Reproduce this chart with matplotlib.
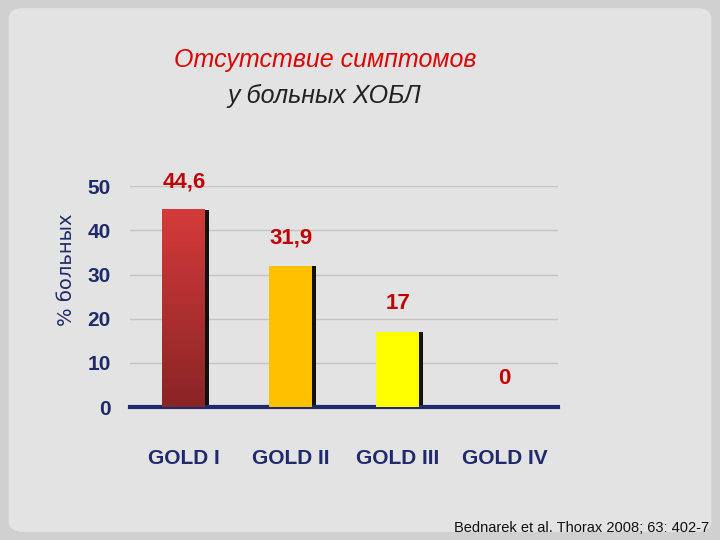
import numpy as np
import matplotlib.pyplot as plt
from matplotlib.patches import FancyBboxPatch
from matplotlib.colors import LinearSegmentedColormap

categories = ['GOLD I', 'GOLD II', 'GOLD III', 'GOLD IV']
values = [44.6, 31.9, 17, 0]
value_labels = ['44,6', '31,9', '17', '0']
colors = ['#c83232', '#ffc000', '#ffff00', '#ffffff']

navy = '#1f2a6b'
red = '#c00000'
narrow = ['Liberation Sans Narrow', 'Liberation Sans', 'DejaVu Sans']

fig = plt.figure(figsize=(7.2, 5.4), dpi=100, facecolor='#d0d0d0')
panel = FancyBboxPatch((0.012, 0.015), 0.976, 0.97, boxstyle='round,pad=0,rounding_size=0.02',
                       transform=fig.transFigure, facecolor='#e3e3e3', edgecolor='none', zorder=-5)
fig.patches.append(panel)

ax = fig.add_axes([0.181, 0.246, 0.594, 0.409], zorder=2)
ax.set_facecolor('none')
ax.yaxis.grid(True, color='#c4c4c4', lw=1)
ax.set_axisbelow(True)
for s in ['top', 'right', 'left']:
    ax.spines[s].set_visible(False)
ax.spines['bottom'].set_color(navy)
ax.spines['bottom'].set_linewidth(3)
ax.spines['bottom'].set_clip_on(False)
ax.tick_params(length=0)
ax.tick_params(axis='y', pad=14)
ax.tick_params(axis='x', pad=30)

w = 0.4
for i, v in enumerate(values):
    if v <= 0:
        continue
    ax.bar(i + 0.035, v, width=w, color='#111111', zorder=2)
    if i == 0:
        grad = np.linspace(0, 1, 100).reshape(-1, 1)
        cmap = LinearSegmentedColormap.from_list('r', ['#8a2525', '#d43a3a'])
        ax.imshow(grad, extent=(i - w / 2, i + w / 2, 0, v), aspect='auto', origin='lower',
                  cmap=cmap, zorder=3)
    else:
        ax.bar(i, v, width=w, color=colors[i], zorder=3)

ax.set_xlim(-0.5, 3.5)
ax.set_ylim(0, 50)
ax.set_yticks(range(0, 51, 10))
ax.set_xticks(range(len(categories)))
ax.set_xticklabels(categories, fontsize=15, fontweight='bold', color=navy, family=narrow)
for t in ax.get_yticklabels():
    t.set_fontsize(15)
    t.set_fontweight('bold')
    t.set_color(navy)
    t.set_family(narrow)

for i, (v, lab) in enumerate(zip(values, value_labels)):
    ax.text(i, v + 4, lab, ha='center', va='bottom', fontsize=16, fontweight='bold',
            color=red, family=narrow)

fig.text(0.451, 0.888, 'Отсутствие симптомов', ha='center', va='center', fontsize=18,
         style='italic', color='#e00000', family=['Liberation Sans', 'DejaVu Sans'])
fig.text(0.451, 0.823, 'у больных ХОБЛ', ha='center', va='center', fontsize=18,
         style='italic', color='#222222', family=['Liberation Sans', 'DejaVu Sans'])
fig.text(0.092, 0.5, '% больных', rotation=90, ha='center', va='center', fontsize=14, color=navy)
fig.text(0.985, 0.022, 'Bednarek et al. Thorax 2008; 63: 402-7', ha='right', va='center',
         fontsize=10.5, color='#111111', family=['Liberation Sans', 'DejaVu Sans'])

fig.savefig('out.png', dpi=100, facecolor=fig.get_facecolor())
